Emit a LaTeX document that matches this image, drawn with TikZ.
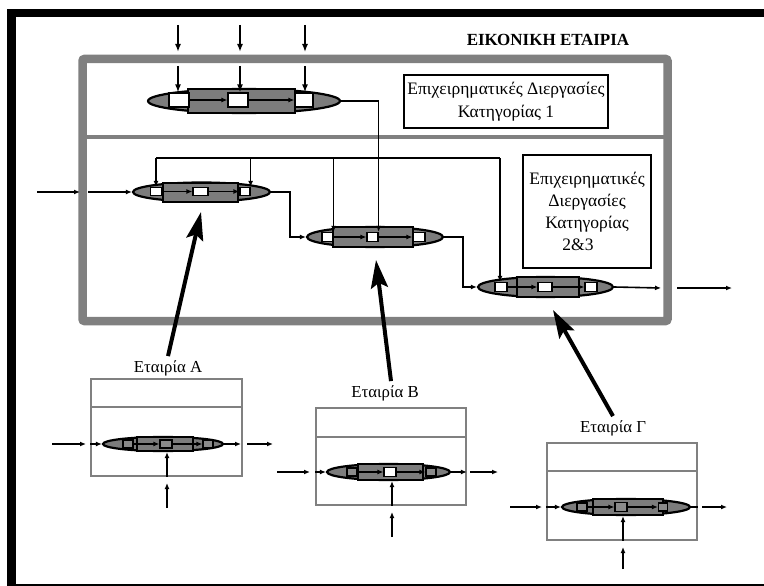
\documentclass[tikz,border=0pt]{standalone}
\usepackage{fontspec}
\setmainfont{Liberation Serif}
\usetikzlibrary{shapes.geometric,arrows.meta,calc}
\definecolor{frgray}{HTML}{808080}
\definecolor{pgray}{HTML}{7C7C7C}
\definecolor{sgray}{HTML}{8A8A8A}
\begin{document}
\begin{tikzpicture}[x=1pt,y=-1pt,
  conn/.style={line width=1.6pt,-{Latex[length=6pt,width=5pt]}},
  plainline/.style={line width=1.6pt},
  inarrow/.style={line width=2.2pt,-{Latex[length=8pt,width=6pt]}},
  big/.style={line width=4pt,-{Stealth[length=28pt,width=17pt,inset=5pt]}},
  proc/.style={ellipse,draw=black,fill=pgray,line width=2.2pt,inner sep=0pt},
  band/.style={rectangle,draw=black,fill=pgray,line width=2pt,inner sep=0pt},
  pbox/.style={rectangle,draw=black,fill=white,line width=1.2pt,inner sep=0pt},
  sbox/.style={rectangle,draw=black,fill=sgray,line width=1.2pt,inner sep=0pt},
  cbox/.style={rectangle,draw=frgray,line width=1.6pt,inner sep=0pt},
  txt/.style={font=\fontsize{17.5}{22}\selectfont,align=center,inner sep=0pt},
  lbl/.style={font=\fontsize{16.8}{20}\selectfont,inner sep=0pt},
]
\useasboundingbox[fill=white] (0,0) rectangle (764,586);
% black outer frame
\fill[black] (7,9) rectangle (764,17);
\fill[black] (7,9) rectangle (16,586);
\fill[black] (7,583.5) rectangle (764,585.5);
% gray main frame
\draw[frgray,line width=8.5pt,rounded corners=2pt] (82.5,59) rectangle (667.5,321);
\draw[frgray,line width=4.5pt] (82.5,137) -- (667.5,137);
% title
\node[font=\fontsize{17}{20}\selectfont\bfseries,inner sep=0pt] (title) at (548,40) {ΕΙΚΟΝΙΚΗ ΕΤΑΙΡΙΑ};
% category boxes
\node[draw=black,line width=1.2pt,minimum width=204,minimum height=53,txt,font=\fontsize{17.5}{23}\selectfont] (cat1) at (506,101.5) {Επιχειρηματικές Διεργασίες\\Κατηγορίας 1};
\node[draw=black,line width=1.2pt,minimum width=128,minimum height=113,txt] (cat23) at (587,211.5) {Επιχειρηματικές\\Διεργασίες\\Κατηγορίας\\2\&3\hspace*{18pt}};

% top process
\node[proc,minimum width=192,minimum height=24] (p1) at (244,101) {};
\node[band,minimum width=107,minimum height=24] (p1band) at (241.5,101) {};
\node[pbox,minimum width=20,minimum height=14] (p1a) at (179,100) {};
\node[pbox,minimum width=20,minimum height=14] (p1b) at (238,100) {};
\node[pbox,minimum width=18,minimum height=14] (p1c) at (304,100) {};
\draw[conn] (p1a.east) -- (p1b.west);
\draw[conn] (p1b.east) -- (p1c.west);
% top inputs
\coordinate (t1s) at (178,25); \coordinate (t1e) at (178,52); \coordinate (t1f) at (178,66);
\coordinate (t2s) at (240,25); \coordinate (t2e) at (240,52); \coordinate (t2f) at (240,66);
\coordinate (t3s) at (305,25); \coordinate (t3e) at (305,52); \coordinate (t3f) at (305,66);
\draw[inarrow] (t1s) -- (t1e);
\draw[inarrow] (t2s) -- (t2e);
\draw[inarrow,line width=1.4pt] (t3s) -- (t3e);
\draw[inarrow] (t1f) -- (p1a.north -| t1f);
\draw[inarrow] (t2f) -- (p1b.north -| t2f);
\draw[inarrow,line width=1.4pt] (t3f) -- (p1c.north -| t3f);

% lower process A (in virtual company)
\node[proc,minimum width=137,minimum height=19] (pA) at (201.5,192) {};
\node[band,minimum width=75,minimum height=19] (pAband) at (200.5,192) {};
\node[pbox,minimum width=11,minimum height=8] (pAa) at (156,191.5) {};
\node[pbox,minimum width=15,minimum height=8] (pAb) at (200.5,191.5) {};
\node[pbox,minimum width=10,minimum height=8] (pAc) at (245,191.5) {};
\draw[conn] (pAa.east) -- (pAb.west);
\draw[conn] (pAb.east) -- (pAc.west);
% process 2
\node[proc,minimum width=136,minimum height=20] (p2) at (375,237) {};
\node[band,minimum width=80,minimum height=20] (p2band) at (373,237) {};
\node[pbox,minimum width=11,minimum height=9] (p2a) at (327.5,237) {};
\node[pbox,minimum width=11,minimum height=9] (p2b) at (372.5,237) {};
\node[pbox,minimum width=12,minimum height=9] (p2c) at (419,237) {};
\draw[conn] (p2a.east) -- (p2b.west);
\draw[conn] (p2b.east) -- (p2c.west);
% process 3
\node[proc,minimum width=135,minimum height=20] (p3) at (545.5,287) {};
\node[band,minimum width=62,minimum height=20] (p3band) at (548,287) {};
\node[pbox,minimum width=12,minimum height=9] (p3a) at (501,287) {};
\node[pbox,minimum width=14,minimum height=9] (p3b) at (545,287) {};
\node[pbox,minimum width=12,minimum height=9] (p3c) at (591,287) {};
\draw[conn] (p3a.east) -- (p3b.west);
\draw[conn] (p3b.east) -- (p3c.west);

% connectors in virtual company
\draw[conn] (p1.east) -| (p2b.north east);
\coordinate (fbL) at (156,158);
\coordinate (fbR) at (500,158);
\draw[plainline] (fbL) -- (fbR);
\draw[conn] (fbL) -- (pAa.north);
\draw[conn] (pAc.north east |- fbL) -- (pAc.north east);
\draw[conn] (p2a.north east |- fbL) -- (p2a.north east);
\draw[conn] (fbR) -- (fbR |- p3a.north);
\coordinate (inA1) at (37,192); \coordinate (inA2) at (80,192); \coordinate (inA3) at (88,192);
\draw[conn] (inA1) -- (inA2);
\draw[conn] (inA3) -- (pA.west);
\draw[conn] (pA.east) -- ++(19,0) |- (p2.west);
\draw[conn] (p2.east) -- ++(19,0) |- (p3.west);
\coordinate (out1) at (661,288); \coordinate (out2) at (677,288); \coordinate (out3) at (732,288);
\draw[conn] (p3.east) -- (out1);
\draw[conn] (out2) -- (out3);

% company A
\node[cbox,minimum width=151,minimum height=97] (cA) at (166.5,427.5) {};
\draw[frgray,line width=1.6pt] (cA.west |- 0,407) -- (cA.east |- 0,407);
\node[lbl] (lA) at (168,368) {Εταιρία A};
\node[proc,minimum width=120,minimum height=14] (sA) at (163,444) {};
\node[band,minimum width=56,minimum height=14] (sAband) at (165,444) {};
\node[sbox,minimum width=10,minimum height=8] (sAa) at (128,444) {};
\node[sbox,minimum width=12,minimum height=8] (sAb) at (166,444) {};
\node[sbox,minimum width=10,minimum height=8] (sAc) at (208,444) {};
\draw[conn] (sAa.east) -- (sAb.west);
\draw[conn] (sAb.east) -- (sAc.west);
\coordinate (aIn1) at (52,444); \coordinate (aIn2) at (86,444);
\coordinate (aOut1) at (241,444); \coordinate (aOut2) at (247,444); \coordinate (aOut3) at (273,444);
\coordinate (aB1) at (167,508); \coordinate (aB2) at (167,483);
\draw[conn] (aIn1) -- (aIn2);
\draw[conn] (cA.west |- sA) -- (sA.west);
\draw[conn] (sA.east) -- (aOut1);
\draw[conn] (aOut2) -- (aOut3);
\draw[conn] (aB1) -- (aB2);
\draw[conn] (cA.south -| aB1) -- (sA.south -| aB1);

% company B
\node[cbox,minimum width=150,minimum height=97] (cB) at (391,456.5) {};
\draw[frgray,line width=1.6pt] (cB.west |- 0,437) -- (cB.east |- 0,437);
\node[lbl] (lB) at (385,393) {Εταιρία B};
\node[proc,minimum width=123,minimum height=16] (sB) at (388.5,472) {};
\node[band,minimum width=65,minimum height=16] (sBband) at (390,472) {};
\node[sbox,minimum width=10,minimum height=8] (sBa) at (352,472) {};
\node[pbox,minimum width=12,minimum height=9] (sBb) at (390,472) {};
\node[sbox,minimum width=10,minimum height=8] (sBc) at (431,472) {};
\draw[conn] (sBa.east) -- (sBb.west);
\draw[conn] (sBb.east) -- (sBc.west);
\coordinate (bIn1) at (277,472); \coordinate (bIn2) at (310,472);
\coordinate (bOut2) at (470,472); \coordinate (bOut3) at (498,472);
\coordinate (bB1) at (392,537); \coordinate (bB2) at (392,512);
\draw[conn] (bIn1) -- (bIn2);
\draw[conn] (cB.west |- sB) -- (sB.west);
\draw[conn] (sB.east) -- (cB.east |- sB);
\draw[conn] (bOut2) -- (bOut3);
\draw[conn] (bB1) -- (bB2);
\draw[conn] (cB.south -| bB1) -- (sB.south -| bB1);

% company Gamma
\node[cbox,minimum width=150,minimum height=97] (cG) at (622,491.5) {};
\draw[frgray,line width=1.6pt] (cG.west |- 0,471) -- (cG.east |- 0,471);
\node[lbl] (lG) at (613,428) {Εταιρία Γ};
\node[proc,minimum width=128,minimum height=16] (sG) at (626,507) {};
\node[band,minimum width=70,minimum height=16] (sGband) at (628,507) {};
\node[sbox,minimum width=10,minimum height=8] (sGa) at (582,507) {};
\node[sbox,minimum width=12,minimum height=9] (sGb) at (621,507) {};
\node[sbox,minimum width=9,minimum height=8] (sGc) at (663,507) {};
\draw[conn] (sGa.east) -- (sGb.west);
\draw[conn] (sGb.east) -- (sGc.west);
\coordinate (gIn1) at (510,507); \coordinate (gIn2) at (542,507);
\coordinate (gOut2) at (702,507); \coordinate (gOut3) at (727,507);
\coordinate (gB1) at (623,569); \coordinate (gB2) at (623,547);
\draw[conn] (gIn1) -- (gIn2);
\draw[conn] (cG.west |- sG) -- (sG.west);
\draw[plainline] (sG.east) -- (cG.east |- sG);
\draw[conn] (gOut2) -- (gOut3);
\draw[conn] (gB1) -- (gB2);
\draw[conn] (cG.south -| gB1) -- (sG.south -| gB1);

% big arrows
\coordinate (tipA) at (201,212);
\coordinate (tipB) at (376,260);
\coordinate (tipG) at (553,310);
\draw[big] (lA.north) ++(0,-4) -- (tipA);
\draw[big] (lB.north) ++(6,-4) -- (tipB);
\draw[big] (lG.north) ++(0,-4) -- (tipG);
\end{tikzpicture}
\end{document}
